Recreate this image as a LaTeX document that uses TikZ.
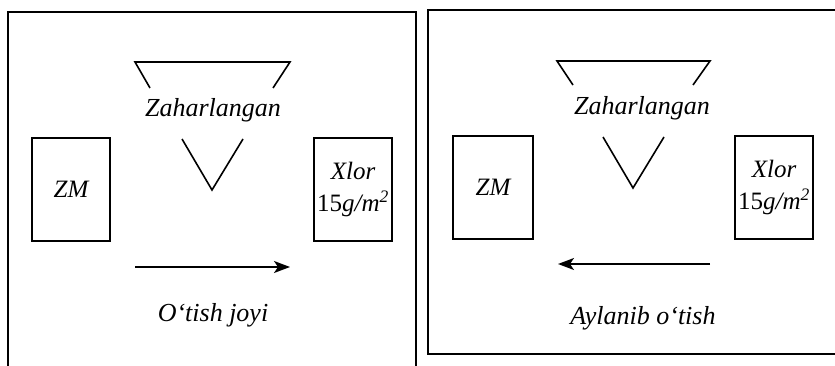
\documentclass[tikz,border=0pt]{standalone}
\usepackage{fontspec}
\setmainfont{Liberation Serif}
\usetikzlibrary{arrows.meta}
\begin{document}
\begin{tikzpicture}[x=1pt,y=-1pt]
\tikzset{
  frame/.style={line width=1.3pt},
  funnel/.style={line width=1.6pt, line join=miter},
  box/.style={draw, line width=1.6pt, minimum width=78pt, minimum height=103pt, inner sep=0pt, font=\fontsize{25}{32}\selectfont\itshape, align=center},
  lbl/.style={font=\fontsize{26}{30}\selectfont\itshape, inner sep=0pt},
  flow/.style={line width=1.6pt, -{Stealth[length=16pt,width=12pt,inset=4pt]}}
}
\useasboundingbox (0,0) rectangle (835,366);
\clip (0,0) rectangle (835,366);
% frames
\draw[frame] (8,370) -- (8,12) -- (416,12) -- (416,370);
\draw[frame] (840,10) -- (428,10) -- (428,354) -- (840,354);
% left panel
\node[box] (zm1) at (71,189.5) {ZM};
\node[box] (xl1) at (353,189.5) {Xlor\\{\upshape 15}g/m\textsuperscript{2}};
\node[lbl] (z1) at (213,110) {Zaharlangan};
\draw[funnel] (150,88) -- (135,62) -- (290,62) -- (273,88);
\draw[funnel] (182,139) -- (212,190) -- (243,139);
\coordinate (a1s) at (135,267);
\coordinate (a1e) at (290,267);
\draw[flow] (a1s) -- (a1e);
\node[lbl] (o1) at (213,315) {O‘tish joyi};
% right panel
\node[box, minimum width=80pt] (zm2) at (493,187.5) {ZM};
\node[box, minimum width=78pt] (xl2) at (774,187.5) {Xlor\\{\upshape 15}g/m\textsuperscript{2}};
\node[lbl] (z2) at (642,108) {Zaharlangan};
\draw[funnel] (573,85) -- (557,61) -- (710,61) -- (693,85);
\draw[funnel] (603,137) -- (633,188) -- (664,137);
\coordinate (a2s) at (710,264);
\coordinate (a2e) at (558,264);
\draw[flow] (a2s) -- (a2e);
\node[lbl] (o2) at (643,318) {Aylanib o‘tish};
\end{tikzpicture}
\end{document}
